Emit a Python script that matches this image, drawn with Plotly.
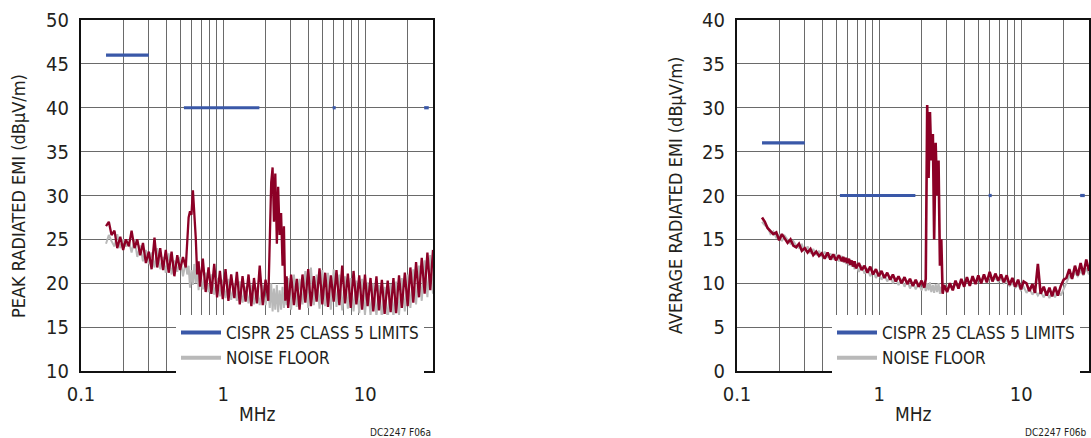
import math
import plotly.graph_objects as go

# ---------------- data ----------------
freq_mhz = [0.150, 0.157, 0.164, 0.172, 0.180, 0.189, 0.198, 0.207, 0.217, 0.227,
            0.238, 0.249, 0.261, 0.273, 0.286, 0.300, 0.314, 0.329, 0.344, 0.361,
            0.378, 0.395, 0.414, 0.434, 0.454, 0.476, 0.498, 0.522, 0.546, 0.559,
            0.572, 0.585, 0.599, 0.613, 0.627, 0.642, 0.657, 0.672, 0.688, 0.720,
            0.754, 0.790, 0.827, 0.866, 0.907, 0.950, 0.995, 1.04, 1.09, 1.14,
            1.20, 1.25, 1.31, 1.37, 1.44, 1.51, 1.58, 1.65, 1.73, 1.81,
            1.90, 1.99, 2.08, 2.13, 2.18, 2.23, 2.28, 2.33, 2.39, 2.44,
            2.50, 2.56, 2.62, 2.68, 2.74, 2.80, 2.87, 3.01, 3.15, 3.30,
            3.45, 3.62, 3.79, 3.97, 4.15, 4.35, 4.55, 4.77, 4.99, 5.23,
            5.47, 5.73, 6.00, 6.28, 6.58, 6.89, 7.21, 7.55, 7.91, 8.28,
            8.67, 9.08, 9.51, 9.96, 10.4, 10.9, 11.4, 12.0, 12.5, 13.1,
            13.7, 14.4, 15.1, 15.8, 16.5, 17.3, 18.1, 19.0, 19.9, 20.8,
            21.8, 22.8, 23.9, 25.0, 26.2, 27.4, 28.7, 30.0]

peak_emi = [26.5, 27.0, 25.5, 26.0, 24.0, 25.3, 23.8, 25.0, 24.2, 26.0,
            24.0, 25.0, 23.2, 24.6, 22.3, 23.6, 21.6, 25.2, 21.8, 24.0,
            21.5, 23.8, 21.2, 23.6, 20.8, 23.2, 21.5, 23.0, 21.8, 24.5,
            27.5, 28.2, 27.8, 30.6, 28.0, 25.2, 21.0, 22.5, 19.6, 22.8,
            19.0, 21.8, 18.8, 22.2, 18.4, 21.4, 18.2, 21.6, 18.0, 21.0,
            18.3, 21.3, 17.6, 20.8, 17.9, 21.0, 17.4, 20.6, 17.7, 22.0,
            17.5, 20.4, 18.0, 23.5, 31.5, 33.2, 27.0, 32.5, 24.5, 31.0,
            25.5, 28.0, 22.0, 26.5, 18.0, 20.8, 17.2, 21.0, 17.5, 20.5,
            17.0, 21.0, 17.8, 21.6, 17.4, 20.8, 17.9, 21.7, 17.6, 21.2,
            17.3, 20.9, 17.9, 21.5, 17.5, 22.0, 17.7, 21.1, 17.2, 21.4,
            17.6, 20.9, 17.0, 21.0, 17.4, 20.6, 16.8, 20.8, 16.9, 20.4,
            16.5, 20.3, 16.7, 20.6, 16.6, 20.9, 17.2, 21.2, 17.4, 21.8,
            17.8, 22.4, 18.4, 22.9, 18.8, 23.5, 19.2, 23.8]

peak_noise = [24.5, 25.5, 24.8, 24.2, 25.6, 24.0, 25.0, 24.2, 24.8, 23.5,
              25.0, 23.0, 24.3, 22.5, 23.8, 22.2, 23.5, 21.8, 24.0, 21.6,
              23.0, 21.2, 23.4, 21.0, 22.6, 21.3, 23.0, 20.8, 22.5, 21.0,
              22.0, 19.5, 21.5, 19.8, 22.2, 20.0, 22.0, 19.2, 21.5, 19.3,
              21.2, 19.0, 21.0, 18.7, 20.6, 18.5, 20.4, 18.3, 20.5, 18.1,
              20.0, 18.0, 20.2, 17.8, 19.6, 17.7, 19.8, 17.6, 19.5, 17.5,
              19.8, 17.5, 19.5, 17.2, 20.0, 16.8, 19.4, 17.0, 19.8, 16.7,
              19.2, 17.0, 19.6, 17.2, 19.0, 17.5, 20.6, 17.0, 21.0, 17.3,
              20.5, 17.6, 21.4, 17.2, 21.8, 17.5, 21.0, 17.1, 21.5, 17.4,
              21.2, 17.0, 21.6, 17.3, 21.0, 16.9, 20.8, 17.1, 20.6, 16.8,
              20.3, 16.6, 20.5, 16.4, 20.1, 16.3, 20.0, 16.2, 19.8, 16.0,
              19.6, 15.9, 19.9, 16.1, 20.2, 16.4, 20.6, 16.8, 21.0, 17.2,
              21.6, 17.6, 22.0, 18.0, 22.6, 18.4, 23.2, 18.8]

avg_emi = [17.5, 17.0, 16.3, 16.0, 15.6, 15.8, 14.9, 15.6, 15.0, 14.6,
           15.0, 14.3, 14.1, 14.5, 13.7, 14.0, 13.5, 13.9, 13.2, 13.6,
           13.1, 13.4, 12.8, 13.5, 12.7, 13.3, 12.6, 13.2, 12.5, 13.0,
           12.4, 12.9, 12.3, 12.8, 12.1, 12.6, 11.9, 12.5, 11.7, 12.3,
           11.5, 12.0, 11.2, 11.9, 11.0, 11.6, 10.8, 11.4, 10.6, 11.2,
           10.4, 11.0, 10.2, 10.8, 10.0, 10.7, 9.9, 10.5, 9.7, 10.4,
           9.6, 10.3, 9.5, 10.5, 30.3, 22.0, 29.5, 24.0, 27.0, 15.0,
           26.0, 20.0, 24.0, 12.0, 15.0, 8.8, 9.8, 9.0, 10.0, 9.2,
           10.3, 9.4, 10.5, 9.6, 10.7, 9.7, 10.8, 9.9, 10.9, 10.0,
           11.0, 10.1, 11.3, 10.2, 11.1, 10.3, 11.0, 10.1, 10.9, 9.8,
           10.6, 9.6, 10.4, 9.3, 10.2, 10.0, 9.1, 9.9, 8.9, 12.2,
           8.8, 9.6, 8.6, 9.5, 8.5, 9.6, 8.6, 9.7, 10.4, 10.6,
           11.6, 10.5, 12.0, 10.9, 12.3, 11.0, 12.7, 11.4]

avg_noise = [17.0, 16.6, 16.4, 15.6, 15.9, 15.2, 15.5, 14.8, 15.4, 14.9,
             14.5, 14.8, 14.3, 14.0, 14.4, 13.6, 14.2, 13.4, 13.9, 13.2,
             13.7, 13.0, 13.6, 12.9, 13.4, 12.7, 13.3, 12.5, 13.1, 12.4,
             12.9, 12.2, 12.8, 12.0, 12.7, 11.9, 12.4, 11.6, 12.2, 11.3,
             12.0, 11.1, 11.7, 10.8, 11.4, 10.6, 11.2, 10.4, 11.0, 10.2,
             10.8, 10.0, 10.6, 9.8, 10.5, 9.6, 10.3, 9.4, 10.1, 9.3,
             10.0, 9.2, 9.9, 9.1, 10.0, 9.2, 10.1, 9.0, 9.8, 8.9,
             9.9, 9.0, 10.0, 8.8, 9.6, 9.0, 9.5, 9.4, 9.6, 9.6,
             9.8, 9.8, 10.0, 10.0, 10.2, 10.1, 10.4, 10.2, 10.5, 10.3,
             10.6, 10.4, 10.7, 10.3, 10.6, 10.2, 10.5, 10.0, 10.3, 9.7,
             10.0, 9.5, 9.8, 9.2, 9.6, 8.9, 9.4, 8.7, 9.2, 8.6,
             9.1, 8.4, 9.0, 8.3, 9.1, 8.4, 9.2, 8.6, 9.4, 10.2,
             10.8, 10.6, 11.2, 10.8, 11.4, 10.9, 11.7, 11.0]

limit_freq = [0.15, 0.30, None, 0.53, 1.8, None, 5.9, 6.2, None, 26, 28]
peak_limit = [46, 46, None, 40, 40, None, 40, 40, None, 40, 40]
avg_limit = [26, 26, None, 20, 20, None, 20, 20, None, 20, 20]

x_tick_vals = [0.1, 0.2, 0.3, 0.4, 0.5, 0.6, 0.7, 0.8, 0.9,
               1, 2, 3, 4, 5, 6, 7, 8, 9, 10, 20, 30]
x_tick_text = ["0.1", "", "", "", "", "", "", "", "",
               "1", "", "", "", "", "", "", "", "", "10", "", ""]

legend_limit_name = "CISPR 25 CLASS 5 LIMITS"
legend_noise_name = "NOISE FLOOR"

# ---------------- style ----------------
W, H = 1091, 438
FONT = "Liberation Sans Narrow, DejaVu Sans Condensed, Arial Narrow, sans-serif"
TXT = "#231f20"
RED = "#8c0026"
GRAY = "#b9b9b9"
BLUE = "#3a58a8"
GRID = "#6a6a6a"


def px(x):
    return x / W


def py(y):
    return 1 - y / H


fig = go.Figure()

panels = [
    ("x", "y", "legend", peak_noise, peak_emi, peak_limit, 2.3),
    ("x2", "y2", "legend2", avg_noise, avg_emi, avg_limit, 2.6),
]
for xa, ya, lg, noise, emi, lim, lw in panels:
    fig.add_trace(go.Scatter(x=freq_mhz, y=noise, xaxis=xa, yaxis=ya, mode="lines",
                             line=dict(color=GRAY, width=2.0), showlegend=False,
                             hoverinfo="skip"))
    fig.add_trace(go.Scatter(x=freq_mhz, y=emi, xaxis=xa, yaxis=ya, mode="lines",
                             line=dict(color=RED, width=lw), showlegend=False,
                             hoverinfo="skip"))
    fig.add_trace(go.Scatter(x=limit_freq, y=lim, xaxis=xa, yaxis=ya, mode="lines",
                             line=dict(color=BLUE, width=3.2), showlegend=False,
                             connectgaps=False, hoverinfo="skip"))
    # legend entries
    fig.add_trace(go.Scatter(x=[None], y=[None], xaxis=xa, yaxis=ya, mode="lines",
                             line=dict(color=BLUE, width=4), name=legend_limit_name,
                             legend=lg, legendrank=1))
    fig.add_trace(go.Scatter(x=[None], y=[None], xaxis=xa, yaxis=ya, mode="lines",
                             line=dict(color=GRAY, width=4), name=legend_noise_name,
                             legend=lg, legendrank=2))

xaxis_common = dict(
    type="log", range=[-1, math.log10(30)],
    tickmode="array", tickvals=x_tick_vals, ticktext=x_tick_text,
    showgrid=True, gridcolor=GRID, gridwidth=1,
    showline=True, mirror=True, linecolor="#111", linewidth=2,
    ticks="", zeroline=False, ticklabelstandoff=4, automargin=False,
    tickfont=dict(family=FONT, size=20, color=TXT),
)
yaxis_common = dict(
    dtick=5, tick0=0,
    showgrid=True, gridcolor=GRID, gridwidth=1,
    showline=True, mirror=True, linecolor="#111", linewidth=2,
    ticks="", zeroline=False, ticklabelstandoff=6, automargin=False,
    tickfont=dict(family=FONT, size=20, color=TXT),
)

ydom = [py(371), py(20)]
legend_common = dict(xanchor="left", yanchor="top",
                     bgcolor="white", borderwidth=0, itemwidth=40,
                     font=dict(family=FONT, size=17, color=TXT),
                     tracegroupgap=0)
fig.update_layout(
    width=W, height=H,
    margin=dict(l=0, r=0, t=0, b=0, pad=0, autoexpand=False),
    paper_bgcolor="white", plot_bgcolor="white",
    font=dict(family=FONT, color=TXT),
    xaxis=dict(domain=[px(81), px(433)], anchor="y", **xaxis_common),
    yaxis=dict(domain=ydom, anchor="x", range=[10, 50], **yaxis_common),
    xaxis2=dict(domain=[px(737), px(1089)], anchor="y2", **xaxis_common),
    yaxis2=dict(domain=ydom, anchor="x2", range=[0, 40], **yaxis_common),
    legend=dict(x=px(176), y=py(315), **legend_common),
    legend2=dict(x=px(832), y=py(315), **legend_common),
    showlegend=True,
)

annots = [
    dict(text="PEAK RADIATED EMI (dBµV/m)", x=px(18), y=py(196), textangle=-90, size=18),
    dict(text="AVERAGE RADIATED EMI (dBµV/m)", x=px(675), y=py(196), textangle=-90, size=18),
    dict(text="MHz", x=px(257), y=py(414), textangle=0, size=19),
    dict(text="MHz", x=px(913), y=py(414), textangle=0, size=19),
]
for a in annots:
    fig.add_annotation(text=a["text"], x=a["x"], y=a["y"], xref="paper", yref="paper",
                       showarrow=False, textangle=a["textangle"],
                       xanchor="center", yanchor="middle",
                       font=dict(family=FONT, size=a["size"], color=TXT))

for label, xr in [("DC2247 F06a", 433), ("DC2247 F06b", 1089)]:
    fig.add_annotation(text=label, x=px(xr), y=py(432), xref="paper", yref="paper",
                       showarrow=False, xanchor="right", yanchor="middle",
                       font=dict(family=FONT, size=10, color=TXT))

fig.write_html("out.html",
               config={"displayModeBar": False},
               post_script="document.body.style.margin='0';"
                           "document.documentElement.style.overflow='hidden';")
